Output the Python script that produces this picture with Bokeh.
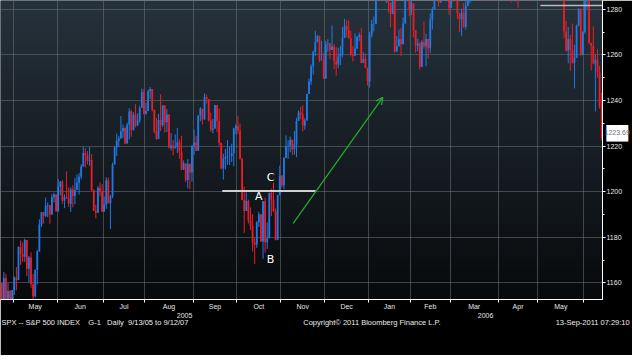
import numpy as np
from bokeh.plotting import figure
from bokeh.models import (ColumnDataSource, FixedTicker, Label, Arrow, OpenHead, Range1d,
                          LinearAxis)
from bokeh.embed import file_html
from bokeh.resources import INLINE

# ---------------- data (S&P 500 daily candles, Apr 21 2005 - Jun 13 2006) ----------------
month_names = ["Apr", "May", "Jun", "Jul", "Aug", "Sep", "Oct", "Nov", "Dec",
               "Jan", "Feb", "Mar", "Apr", "May", "Jun"]
month_days = [7, 21, 22, 20, 23, 21, 21, 21, 21, 20, 19, 23, 19, 22, 9]
year_labels = ["2005", "2006"]
y_ticks = [1160, 1180, 1200, 1220, 1240, 1260, 1280]
last_price = 1223.69
level_line = 1200.3
top_line = 1281.7
annot_letters = ["A", "B", "C"]
footer_texts = [
    "SPX -- S&P 500 INDEX\u00a0\u00a0\u00a0\u00a0G-1\u00a0\u00a0\u00a0Daily\u00a0\u00a09/13/05 to 9/12/07",
    "Copyright\u00a9 2011 Bloomberg Finance L.P.",
    "13-Sep-2011 07:29:10",
]

opens = [
    1137.5, 1159.9, 1152.1, 1162.1, 1151.8, 1156.4, 1143.2,
    1156.9, 1162.2, 1161.2, 1175.7, 1172.6, 1171.4, 1178.8, 1166.2, 1171.1, 1159.4, 1154.1, 1165.7, 1173.8, 1185.6, 1191.1, 1189.3, 1193.9, 1194.1, 1190.0, 1197.6, 1198.8,
    1191.5, 1202.2, 1204.3, 1196.0, 1197.5, 1197.3, 1194.7, 1200.9, 1198.1, 1200.8, 1203.9, 1206.6, 1211.0, 1217.0, 1216.1, 1213.6, 1213.9, 1200.7, 1191.6, 1190.7, 1201.6, 1199.9,
    1191.3, 1194.4, 1205.0, 1194.9, 1197.9, 1211.9, 1219.4, 1222.2, 1223.3, 1226.5, 1227.9, 1221.1, 1229.4, 1235.2, 1227.0, 1233.7, 1229.0, 1231.2, 1236.8, 1243.7,
    1234.2, 1235.4, 1244.1, 1245.0, 1235.9, 1226.4, 1223.1, 1231.4, 1229.1, 1237.8, 1230.4, 1233.9, 1219.3, 1220.2, 1219.0, 1219.7, 1221.7, 1217.6, 1209.6, 1212.4, 1205.1, 1212.3, 1208.4,
    1220.3, 1221.6, 1218.0, 1233.4, 1236.4, 1231.7, 1241.5, 1240.6, 1231.2, 1227.2, 1227.7, 1237.9, 1231.0, 1221.3, 1210.2, 1214.6, 1215.3, 1215.6, 1215.7, 1216.9, 1227.7,
    1228.8, 1226.7, 1214.5, 1196.4, 1191.5, 1195.9, 1187.3, 1184.9, 1177.7, 1176.8, 1186.6, 1190.1, 1178.1, 1195.8, 1177.8, 1179.6, 1199.4, 1196.5, 1191.4, 1178.9, 1198.4,
    1207.0, 1202.8, 1214.8, 1219.9, 1220.1, 1222.8, 1218.6, 1220.7, 1231.0, 1234.7, 1233.8, 1229.0, 1231.2, 1242.8, 1248.3, 1254.9, 1261.2, 1265.6, 1268.3, 1257.4, 1257.5,
    1249.5, 1264.7, 1265.1, 1262.1, 1263.7, 1257.4, 1255.8, 1259.4, 1260.4, 1267.4, 1272.7, 1270.9, 1267.3, 1259.9, 1259.6, 1262.8, 1268.1, 1268.7, 1256.5, 1258.2, 1254.4,
    1248.3, 1268.8, 1273.4, 1273.5, 1285.5, 1290.2, 1289.7, 1294.2, 1286.1, 1287.6, 1282.9, 1277.9, 1285.0, 1261.5, 1263.8, 1266.9, 1264.7, 1273.8, 1283.7, 1285.2,
    1280.1, 1282.5, 1270.8, 1264.0, 1265.0, 1254.8, 1265.7, 1263.8, 1267.0, 1262.9, 1275.5, 1280.0, 1289.4, 1287.2, 1283.0, 1292.7, 1287.8, 1289.4, 1294.1,
    1280.7, 1291.2, 1289.1, 1287.2, 1278.3, 1275.9, 1278.5, 1272.2, 1281.4, 1284.1, 1297.5, 1303.0, 1305.3, 1307.3, 1305.1, 1297.2, 1305.0, 1301.7, 1303.0, 1301.6, 1293.2, 1302.9, 1300.3,
    1294.9, 1297.8, 1305.9, 1311.6, 1309.0, 1295.5, 1296.6, 1286.6, 1288.1, 1289.1, 1285.3, 1307.3, 1309.9, 1311.5, 1311.3, 1308.1, 1301.7, 1305.4, 1309.7,
    1310.6, 1305.2, 1313.2, 1308.1, 1312.3, 1325.8, 1324.7, 1325.1, 1322.9, 1305.9, 1291.2, 1294.5, 1292.1, 1270.3, 1261.8, 1267.0, 1262.1, 1256.6, 1258.6, 1272.9, 1280.2, 1259.9,
    1270.1, 1285.7, 1288.2, 1265.3, 1263.9, 1256.2, 1257.9, 1252.3, 1237.4,
]
highs = [
    1160.5, 1159.9, 1164.8, 1164.0, 1159.9, 1156.9, 1156.9,
    1162.9, 1166.9, 1176.0, 1178.6, 1177.8, 1179.4, 1178.8, 1171.8, 1173.4, 1163.8, 1165.8, 1174.4, 1187.9, 1191.1, 1191.2, 1197.4, 1195.3, 1194.1, 1198.9, 1199.6, 1198.8,
    1205.6, 1204.7, 1205.1, 1198.8, 1208.9, 1201.9, 1201.9, 1202.8, 1206.0, 1207.5, 1208.1, 1212.1, 1219.6, 1219.1, 1217.8, 1219.6, 1216.5, 1200.9, 1194.3, 1202.5, 1204.1, 1203.3,
    1197.9, 1206.3, 1206.1, 1198.5, 1212.7, 1220.0, 1225.5, 1224.5, 1233.2, 1229.5, 1228.2, 1230.3, 1236.6, 1235.8, 1234.9, 1238.4, 1234.4, 1237.6, 1245.2, 1245.0,
    1239.1, 1244.7, 1245.9, 1245.0, 1235.9, 1232.3, 1234.1, 1242.7, 1238.0, 1237.8, 1236.2, 1233.9, 1225.7, 1222.6, 1225.1, 1228.0, 1223.0, 1224.5, 1213.7, 1212.4, 1214.3, 1212.3, 1220.4,
    1227.3, 1224.5, 1233.6, 1237.1, 1236.4, 1243.1, 1242.6, 1240.6, 1234.7, 1231.9, 1238.1, 1237.9, 1236.5, 1221.5, 1216.6, 1218.8, 1222.6, 1220.0, 1221.0, 1228.1, 1229.6,
    1233.3, 1229.9, 1214.5, 1202.1, 1199.7, 1196.5, 1193.1, 1190.0, 1179.6, 1187.1, 1191.2, 1190.1, 1195.9, 1197.3, 1186.5, 1199.6, 1201.3, 1204.0, 1192.6, 1198.6, 1211.4,
    1207.3, 1215.2, 1224.7, 1222.5, 1224.2, 1222.8, 1226.6, 1232.4, 1235.7, 1237.2, 1237.9, 1232.2, 1243.0, 1249.6, 1255.9, 1261.9, 1270.6, 1268.8, 1268.4, 1266.2, 1260.9,
    1266.2, 1266.9, 1265.1, 1272.9, 1264.8, 1263.4, 1263.1, 1263.9, 1272.1, 1275.8, 1275.2, 1275.2, 1270.5, 1263.9, 1269.4, 1268.2, 1269.8, 1271.8, 1261.1, 1260.6, 1254.4,
    1270.2, 1275.4, 1276.9, 1286.1, 1290.8, 1290.2, 1294.9, 1294.2, 1288.9, 1287.6, 1282.9, 1287.8, 1285.0, 1268.2, 1271.1, 1271.9, 1276.4, 1286.4, 1287.9, 1285.2,
    1283.8, 1282.5, 1270.9, 1267.0, 1265.8, 1266.5, 1274.6, 1269.3, 1267.0, 1278.2, 1281.0, 1289.4, 1289.5, 1291.9, 1294.2, 1293.8, 1292.1, 1297.6, 1294.1,
    1291.8, 1291.2, 1297.3, 1288.2, 1278.3, 1280.3, 1282.7, 1284.4, 1287.4, 1298.1, 1303.4, 1310.9, 1310.6, 1310.0, 1310.9, 1306.0, 1305.0, 1306.5, 1303.7, 1306.2, 1305.6, 1310.2, 1303.0,
    1309.9, 1307.6, 1312.8, 1312.0, 1314.1, 1300.7, 1300.7, 1290.9, 1292.1, 1292.4, 1309.0, 1310.4, 1318.2, 1317.7, 1311.3, 1310.8, 1311.0, 1315.0, 1316.0,
    1317.2, 1314.7, 1313.2, 1315.1, 1326.5, 1326.7, 1326.6, 1325.2, 1322.9, 1305.9, 1294.8, 1297.9, 1292.1, 1274.9, 1272.2, 1268.8, 1273.7, 1264.5, 1273.3, 1280.5, 1280.2, 1270.3,
    1285.9, 1290.7, 1288.2, 1265.3, 1272.5, 1259.9, 1262.6, 1255.2, 1243.4,
]
lows = [
    1137.2, 1142.9, 1152.1, 1151.5, 1144.4, 1143.1, 1139.8,
    1154.7, 1156.7, 1161.2, 1167.9, 1169.1, 1169.2, 1162.9, 1160.0, 1157.8, 1146.2, 1153.6, 1159.3, 1173.8, 1184.5, 1186.0, 1188.8, 1188.8, 1185.9, 1190.0, 1195.3, 1191.1,
    1191.0, 1198.4, 1194.7, 1192.8, 1196.8, 1193.3, 1191.1, 1193.1, 1194.5, 1200.8, 1198.7, 1205.5, 1211.0, 1210.6, 1211.9, 1211.3, 1200.2, 1191.5, 1188.3, 1190.7, 1198.0, 1191.1,
    1191.3, 1192.5, 1194.8, 1183.6, 1197.2, 1211.9, 1215.7, 1219.6, 1223.3, 1223.5, 1220.9, 1221.1, 1222.9, 1224.1, 1226.8, 1228.2, 1229.0, 1230.2, 1236.8, 1233.9,
    1233.8, 1235.4, 1240.6, 1235.2, 1225.6, 1222.7, 1223.1, 1226.6, 1228.3, 1225.9, 1226.2, 1218.9, 1218.1, 1215.9, 1219.0, 1216.9, 1214.4, 1209.4, 1209.6, 1204.2, 1201.5, 1201.1, 1204.4,
    1216.2, 1217.8, 1218.0, 1230.9, 1229.5, 1231.7, 1238.6, 1230.8, 1226.2, 1225.6, 1227.7, 1226.2, 1220.1, 1209.9, 1205.3, 1209.8, 1211.8, 1211.7, 1213.0, 1211.1, 1225.2,
    1225.2, 1214.0, 1196.3, 1181.9, 1191.5, 1186.1, 1183.2, 1173.7, 1168.2, 1175.4, 1184.5, 1177.9, 1170.6, 1173.3, 1174.9, 1179.6, 1189.3, 1191.1, 1178.6, 1178.9, 1198.4,
    1201.7, 1201.1, 1214.8, 1214.4, 1217.3, 1216.1, 1216.2, 1215.1, 1231.0, 1231.8, 1226.4, 1227.2, 1231.2, 1242.8, 1246.9, 1251.4, 1259.5, 1265.5, 1256.8, 1257.4, 1249.4,
    1249.5, 1261.4, 1258.1, 1262.1, 1253.8, 1250.9, 1254.2, 1255.5, 1258.9, 1267.4, 1267.7, 1267.0, 1259.3, 1257.2, 1259.6, 1262.5, 1265.9, 1256.3, 1256.5, 1254.2, 1246.6,
    1245.7, 1267.7, 1270.3, 1273.5, 1284.8, 1283.8, 1288.1, 1285.0, 1282.8, 1278.6, 1272.1, 1277.9, 1260.9, 1261.5, 1263.8, 1259.4, 1264.7, 1273.8, 1283.5, 1276.9,
    1277.6, 1267.7, 1261.0, 1261.6, 1253.6, 1254.8, 1262.8, 1255.0, 1258.3, 1260.8, 1271.1, 1280.0, 1284.7, 1281.3, 1283.0, 1285.4, 1285.6, 1289.4, 1277.6,
    1280.7, 1283.2, 1284.2, 1275.7, 1270.0, 1268.4, 1271.9, 1271.1, 1281.4, 1282.7, 1294.1, 1303.0, 1305.3, 1303.6, 1295.8, 1295.8, 1298.1, 1301.7, 1299.1, 1291.8, 1293.2, 1296.7, 1293.0,
    1294.9, 1296.7, 1305.6, 1302.4, 1294.8, 1293.2, 1283.0, 1286.5, 1283.4, 1280.7, 1285.3, 1302.8, 1306.4, 1306.6, 1303.8, 1298.9, 1301.7, 1295.8, 1306.2,
    1303.5, 1305.2, 1303.9, 1307.9, 1312.3, 1322.9, 1322.5, 1317.4, 1303.5, 1290.4, 1284.5, 1288.5, 1267.3, 1261.5, 1256.3, 1253.0, 1256.2, 1245.3, 1258.6, 1272.5, 1259.6, 1259.9,
    1269.2, 1280.2, 1264.7, 1253.1, 1255.8, 1235.2, 1250.0, 1236.4, 1222.5,
]
closes = [
    1159.9, 1152.1, 1162.1, 1151.8, 1156.4, 1143.2, 1156.9,
    1162.2, 1161.2, 1175.7, 1172.6, 1171.4, 1178.8, 1166.2, 1171.1, 1159.4, 1154.1, 1165.7, 1173.8, 1185.6, 1191.1, 1189.3, 1193.9, 1194.1, 1190.0, 1197.6, 1198.8, 1191.5,
    1202.2, 1204.3, 1196.0, 1197.5, 1197.3, 1194.7, 1200.9, 1198.1, 1200.8, 1203.9, 1206.6, 1211.0, 1217.0, 1216.1, 1213.6, 1213.9, 1200.7, 1191.6, 1190.7, 1201.6, 1199.9, 1191.3,
    1194.4, 1205.0, 1194.9, 1197.9, 1211.9, 1219.4, 1222.2, 1223.3, 1226.5, 1227.9, 1221.1, 1229.4, 1235.2, 1227.0, 1233.7, 1229.0, 1231.2, 1236.8, 1243.7, 1234.2,
    1235.4, 1244.1, 1245.0, 1235.9, 1226.4, 1223.1, 1231.4, 1229.1, 1237.8, 1230.4, 1233.9, 1219.3, 1220.2, 1219.0, 1219.7, 1221.7, 1217.6, 1209.6, 1212.4, 1205.1, 1212.3, 1208.4, 1220.3,
    1221.6, 1218.0, 1233.4, 1236.4, 1231.7, 1241.5, 1240.6, 1231.2, 1227.2, 1227.7, 1237.9, 1231.0, 1221.3, 1210.2, 1214.6, 1215.3, 1215.6, 1215.7, 1216.9, 1227.7, 1228.8,
    1226.7, 1214.5, 1196.4, 1191.5, 1195.9, 1187.3, 1184.9, 1177.7, 1176.8, 1186.6, 1190.1, 1178.1, 1195.8, 1177.8, 1179.6, 1199.4, 1196.5, 1191.4, 1178.9, 1198.4, 1207.0,
    1202.8, 1214.8, 1219.9, 1220.1, 1222.8, 1218.6, 1220.7, 1231.0, 1234.7, 1233.8, 1229.0, 1231.2, 1242.8, 1248.3, 1254.9, 1261.2, 1265.6, 1268.3, 1257.5, 1257.5, 1249.5,
    1264.7, 1265.1, 1262.1, 1263.7, 1257.4, 1255.8, 1259.4, 1260.4, 1267.4, 1272.7, 1270.9, 1267.3, 1259.9, 1259.6, 1262.8, 1268.1, 1268.7, 1256.5, 1258.2, 1254.4, 1248.3,
    1268.8, 1273.5, 1273.5, 1285.5, 1290.2, 1289.7, 1294.2, 1286.1, 1287.6, 1282.9, 1277.9, 1285.0, 1261.5, 1263.8, 1266.9, 1264.7, 1273.8, 1283.7, 1285.2, 1280.1,
    1282.5, 1270.8, 1264.0, 1265.0, 1254.8, 1265.7, 1263.8, 1267.0, 1262.9, 1275.5, 1280.0, 1289.4, 1287.2, 1283.0, 1292.7, 1287.8, 1289.4, 1294.1, 1280.7,
    1291.2, 1289.1, 1287.2, 1278.3, 1275.9, 1278.5, 1272.2, 1281.4, 1284.1, 1297.5, 1303.0, 1305.3, 1307.3, 1305.1, 1297.2, 1305.0, 1301.7, 1303.0, 1301.6, 1293.2, 1302.9, 1300.3, 1294.9,
    1297.8, 1305.9, 1311.6, 1309.0, 1295.5, 1296.6, 1286.6, 1288.1, 1289.1, 1285.3, 1307.3, 1309.9, 1311.5, 1311.3, 1308.1, 1301.7, 1305.4, 1309.7, 1310.6,
    1305.2, 1313.2, 1308.1, 1312.3, 1325.8, 1324.7, 1325.1, 1322.9, 1305.9, 1291.2, 1294.5, 1292.1, 1270.3, 1261.8, 1267.0, 1262.1, 1256.6, 1258.6, 1272.9, 1280.2, 1259.9, 1270.1,
    1285.7, 1288.2, 1265.3, 1263.9, 1256.2, 1257.9, 1252.3, 1237.4, 1223.7,
]

# ---------------- derived positions ----------------
n = len(closes)
xs = np.arange(n)
starts = np.cumsum([0] + month_days[:-1])
boundaries = [float(s) - 0.5 for s in starts[1:]]
full = range(1, len(month_days) - 1)
mids = [float(starts[k] + (month_days[k] - 1) / 2.0) for k in full]
mid_labels = {m: month_names[k] for m, k in zip(mids, full)}
jan_b = float(starts[9]) - 0.5

X0, X1 = 0.4, 288.4
Y0, Y1 = 1152.7, 1283.86

up = np.array(closes) >= np.array(opens)
UP, DOWN = "#1f7ae8", "#ee1c24"
src = ColumnDataSource(dict(
    x=xs, high=highs, low=lows,
    top=np.maximum(opens, closes), bottom=np.minimum(opens, closes),
    color=[UP if u else DOWN for u in up],
))

p = figure(width=632, height=355, output_backend="svg", toolbar_location=None,
           x_range=Range1d(X0, X1), y_range=Range1d(Y0, Y1),
           y_axis_location="right", min_border_left=0, min_border_top=0,
           min_border_right=30, min_border_bottom=56)
p.border_fill_color = "#000000"
p.background_fill_color = "#151b20"
p.outline_line_color = None

# gradient background of the plotting area
H = 299
t = np.linspace(0.0, 1.0, H)[:, None]
top_c = np.array([38, 50, 60], dtype=float)
bot_c = np.array([8, 10, 12], dtype=float)
rgb = bot_c + (top_c - bot_c) * t
img = np.zeros((H, 2), dtype=np.uint32)
view = img.view(dtype=np.uint8).reshape((H, 2, 4))
for ch in range(3):
    view[:, :, ch] = rgb[:, ch][:, None].astype(np.uint8)
view[:, :, 3] = 255
p.image_rgba(image=[img], x=X0, y=Y0, dw=X1 - X0, dh=Y1 - Y0, level="image")

# grid
p.xgrid.ticker = FixedTicker(ticks=boundaries)
for g in (p.xgrid, p.ygrid):
    g.grid_line_color = "#737a82"
    g.grid_line_dash = "1 1"
    g.grid_line_width = 1

# candles
p.segment(x0="x", y0="high", x1="x", y1="low", line_color="color", line_width=1, source=src)
p.vbar(x="x", width=0.85, top="top", bottom="bottom", fill_color="color",
       line_color=None, source=src)

# drawn annotations
p.segment(x0=[106.5], y0=[level_line], x1=[151.2], y1=[level_line],
          line_color="#cfcfcf", line_width=2)
p.segment(x0=[258.7], y0=[top_line], x1=[X1], y1=[top_line],
          line_color="#b9bcbf", line_width=1.5)
p.add_layout(Arrow(end=OpenHead(size=7, line_color="#22b02a", line_width=1.2),
                   x_start=140.4, y_start=1186.1, x_end=183.3, y_end=1241.4,
                   line_color="#22b02a", line_width=1.2))
for txt, (lx, ly) in zip(annot_letters, [(123.9, 1197.7), (129.6, 1170.3), (129.6, 1206.3)]):
    p.add_layout(Label(x=lx, y=ly, text=txt, text_color="#ffffff", text_font_size="11px",
                       text_font="DejaVu Sans", text_align="center",
                       text_baseline="middle"))

FONT = "Liberation Sans"

# month axis
xa = p.xaxis[0]
xa.ticker = FixedTicker(ticks=mids, minor_ticks=boundaries)
xa.major_label_overrides = mid_labels
xa.major_tick_line_color = None
xa.major_tick_in = 0
xa.major_tick_out = 0
xa.minor_tick_line_color = "#ffffff"
xa.minor_tick_in = 0
xa.minor_tick_out = 3
xa.axis_line_color = "#ffffff"
xa.major_label_standoff = 0
xa.major_label_text_color = "#e6e6e6"
xa.major_label_text_font = FONT
xa.major_label_text_font_size = "7px"


def text_axis(ticks, labels, standoff, size, color="#e6e6e6", font=FONT):
    ax = LinearAxis(ticker=FixedTicker(ticks=ticks),
                    major_label_overrides=dict(zip(ticks, labels)))
    ax.axis_line_color = None
    ax.major_tick_line_color = None
    ax.minor_tick_line_color = None
    ax.major_tick_in = 0
    ax.major_tick_out = 0
    ax.major_label_standoff = standoff
    ax.major_label_text_color = color
    ax.major_label_text_font = font
    ax.major_label_text_font_size = size
    return ax


# year axis
year_pos = [round((X0 + jan_b) / 2, 2), round((jan_b + X1) / 2, 2)]
p.add_layout(text_axis(year_pos, year_labels, 0, "7px"), "below")
# footer axis
footer_pos = [45.6, 178.1, 283.7]
p.add_layout(text_axis(footer_pos, footer_texts, -3, "7.5px", "#ececec"), "below")

# price axis
ya = p.yaxis[0]
ya.ticker = FixedTicker(ticks=y_ticks, minor_ticks=[v + 10 for v in y_ticks[:-1]] + [1150])
ya.axis_line_color = "#ffffff"
ya.major_tick_line_color = "#ffffff"
ya.minor_tick_line_color = "#ffffff"
ya.major_tick_in = 0
ya.major_tick_out = 3
ya.minor_tick_in = 0
ya.minor_tick_out = 2
ya.major_label_standoff = 1
ya.major_label_text_color = "#e6e6e6"
ya.major_label_text_font = FONT
ya.major_label_text_font_size = "7px"

# last price tag: a white block and the value, as extra right-hand axes pulled back;
# the tag sits slightly above the price level, as in the original
tag_pos = round(last_price + 2.1, 2)
box = text_axis([tag_pos], ["\u2588\u2588"], -19, "14px", "#ffffff", "DejaVu Sans")
p.add_layout(box, "right")
tag = text_axis([tag_pos], [f"{last_price:.2f}"], -27, "7px", "#6d7278")
p.add_layout(tag, "right")

open("out.html", "w").write(file_html(p, INLINE))
